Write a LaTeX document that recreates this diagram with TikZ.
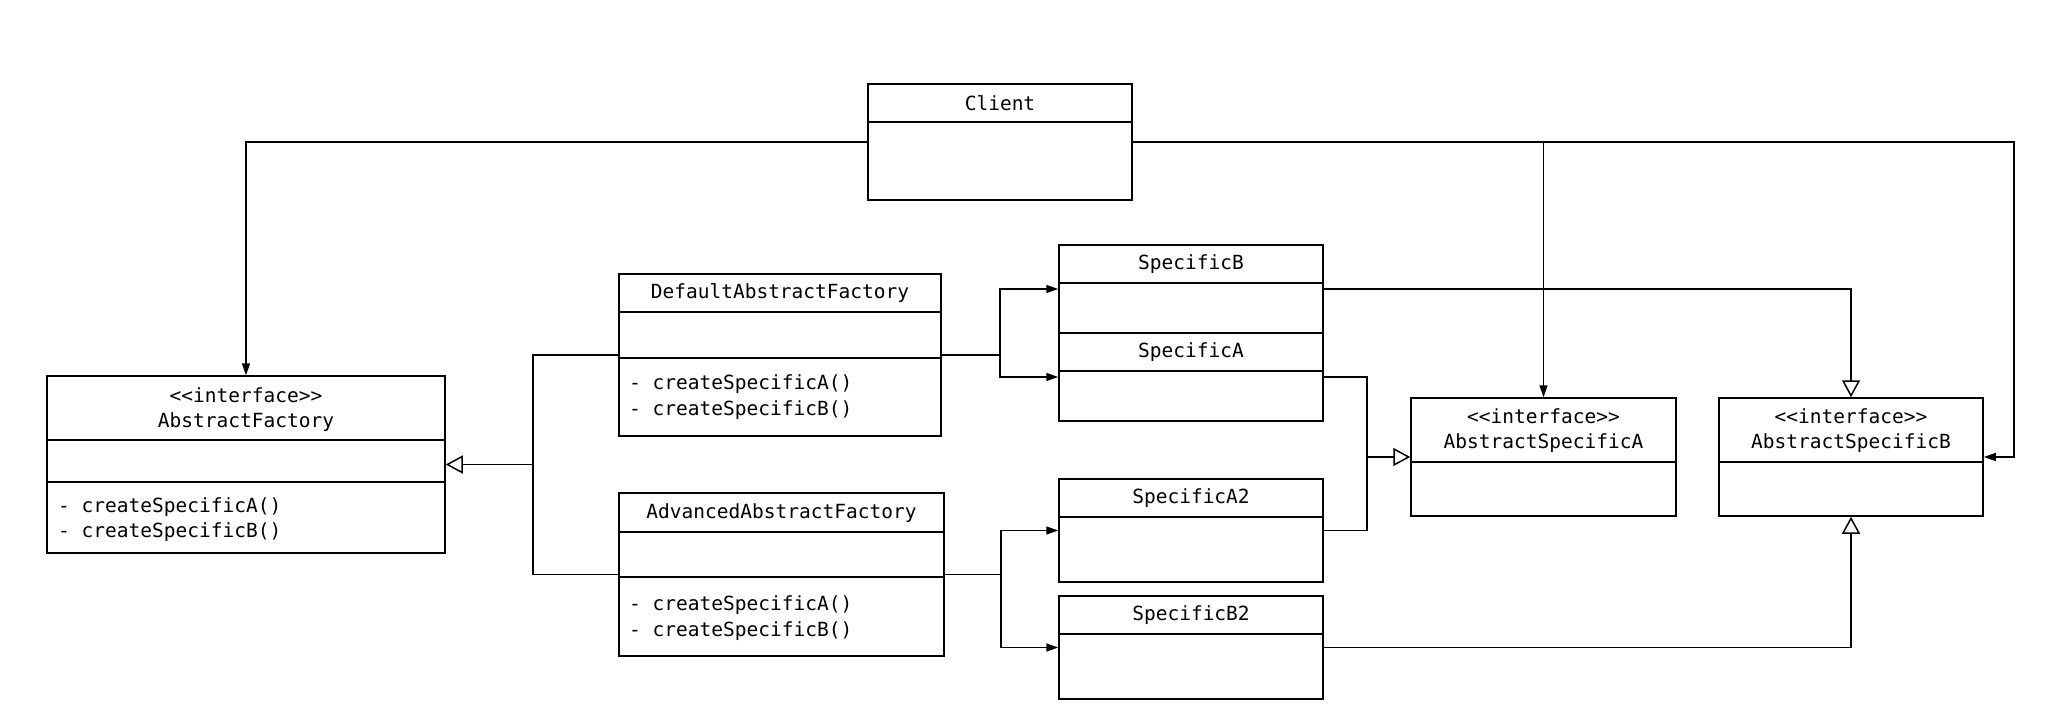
\documentclass[tikz,border=0pt]{standalone}
\usepackage{fontspec}
\newfontfamily\umlfont{DejaVu Sans Mono}
\usetikzlibrary{arrows.meta}
\tikzset{
  cls/.style={draw, line width=1.5pt, inner sep=0pt, fill=white},
  txt/.style={inner sep=0pt, font=\umlfont\fontsize{19.5}{25.5}\selectfont},
  conn/.style={line width=1.5pt},
  arr/.style={conn, -{Triangle[length=12pt,width=8pt]}},
  inh/.style={conn, -{Triangle[open,length=17pt,width=18pt,fill=white]}},
}
\begin{document}
\begin{tikzpicture}[x=1pt,y=-1pt]
\fill[white] (0,0) rectangle (2052,722);
\useasboundingbox (0,0) rectangle (2052,722);

% class boxes
\node[cls, minimum width=264pt, minimum height=116pt] (client) at (1000,142) {};
\node[cls, minimum width=398pt, minimum height=177pt] (af) at (246,464.5) {};
\node[cls, minimum width=322pt, minimum height=162pt] (def) at (780,355) {};
\node[cls, minimum width=325pt, minimum height=163pt] (adv) at (781.5,574.5) {};
\node[cls, minimum width=264pt, minimum height=88pt] (sB) at (1191,289) {};
\node[cls, minimum width=264pt, minimum height=88pt] (sA) at (1191,377) {};
\node[cls, minimum width=264pt, minimum height=103pt] (sA2) at (1191,530.5) {};
\node[cls, minimum width=264pt, minimum height=103pt] (sB2) at (1191,647.5) {};
\node[cls, minimum width=265pt, minimum height=118pt] (asA) at (1543.5,457) {};
\node[cls, minimum width=264pt, minimum height=118pt] (asB) at (1851,457) {};

% compartment lines
\draw[conn] (client.west |- 0,122) -- (client.east |- 0,122);
\draw[conn] (af.west |- 0,440) -- (af.east |- 0,440);
\draw[conn] (af.west |- 0,482) -- (af.east |- 0,482);
\draw[conn] (def.west |- 0,312) -- (def.east |- 0,312);
\draw[conn] (def.west |- 0,358) -- (def.east |- 0,358);
\draw[conn] (adv.west |- 0,532) -- (adv.east |- 0,532);
\draw[conn] (adv.west |- 0,577) -- (adv.east |- 0,577);
\draw[conn] (sB.west |- 0,283) -- (sB.east |- 0,283);
\draw[conn] (sA.west |- 0,371) -- (sA.east |- 0,371);
\draw[conn] (sA2.west |- 0,517) -- (sA2.east |- 0,517);
\draw[conn] (sB2.west |- 0,634) -- (sB2.east |- 0,634);
\draw[conn] (asA.west |- 0,462) -- (asA.east |- 0,462);
\draw[conn] (asB.west |- 0,462) -- (asB.east |- 0,462);

% texts
\node[txt] (tclient) at (1000,103) {Client};
\node[txt, align=center] (taf) at (246,409.5) {<<interface>>\\AbstractFactory};
\node[txt, anchor=west, align=left] (maf) at (58,519.5) {- createSpecificA()\\- createSpecificB()};
\node[txt] (tdef) at (780,293) {DefaultAbstractFactory};
\node[txt, anchor=west, align=left] (mdef) at (629,397) {- createSpecificA()\\- createSpecificB()};
\node[txt] (tadv) at (781.5,513) {AdvancedAbstractFactory};
\node[txt, anchor=west, align=left] (madv) at (629,618) {- createSpecificA()\\- createSpecificB()};
\node[txt] (tsB) at (1191,264) {SpecificB};
\node[txt] (tsA) at (1191,352) {SpecificA};
\node[txt] (tsA2) at (1191,498) {SpecificA2};
\node[txt] (tsB2) at (1191,615) {SpecificB2};
\node[txt, align=center] (tasA) at (1543.5,430.5) {<<interface>>\\AbstractSpecificA};
\node[txt, align=center] (tasB) at (1851,430.5) {<<interface>>\\AbstractSpecificB};

% junction coordinates
\coordinate (cr) at (2014,142);
\coordinate (jF) at (533,464.5);
\coordinate (jD) at (1000,355);
\coordinate (jAd) at (1001,574.5);
\coordinate (jA) at (1367,457);

% Client associations
\draw[arr] (client.west) -| (af.north);
\draw[arr] (client.east) -- (cr) |- (asB.east);
\draw[arr] (asA.north |- client.east) -- (asA.north);

% factory inheritance
\draw[conn] (def.west) -| (jF);
\draw[conn] (adv.west) -| (jF);
\draw[inh] (jF) -- (af.east);

% factory creates products
\draw[conn] (def.east) -- (jD);
\draw[arr] (jD) |- (sB.west);
\draw[arr] (jD) |- (sA.west);
\draw[conn] (adv.east) -- (jAd);
\draw[arr] (jAd) |- (sA2.west);
\draw[arr] (jAd) |- (sB2.west);

% product inheritance
\draw[conn] (sA.east) -| (jA);
\draw[conn] (sA2.east) -| (jA);
\draw[inh] (jA) -- (asA.west);
\draw[inh] (sB.east) -| (asB.north);
\draw[inh] (sB2.east) -| (asB.south);
\end{tikzpicture}
\end{document}
